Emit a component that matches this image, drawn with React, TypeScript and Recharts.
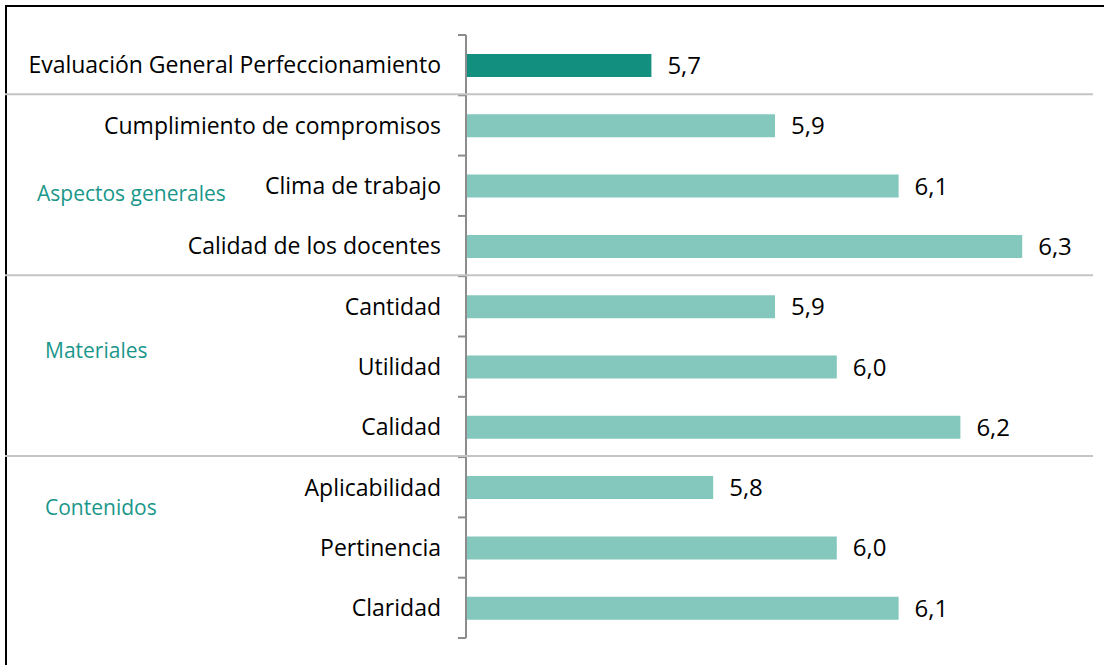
import React from "react";
import { BarChart, Bar, XAxis, YAxis, Cell, LabelList } from "recharts";

const categories = [
  "Evaluación General Perfeccionamiento",
  "Cumplimiento de compromisos",
  "Clima de trabajo",
  "Calidad de los docentes",
  "Cantidad",
  "Utilidad",
  "Calidad",
  "Aplicabilidad",
  "Pertinencia",
  "Claridad",
];
const values = [5.7, 5.9, 6.1, 6.3, 5.9, 6.0, 6.2, 5.8, 6.0, 6.1];
const groupStarts = ["Cumplimiento de compromisos", "Cantidad", "Aplicabilidad"];
const groupLabels = ["Aspectos generales", "Materiales", "Contenidos"];
const xDomain = [5.4, 6.4];

const data = categories.map((name, i) => ({ name, value: values[i] }));

const FONT = "'Open Sans', 'Noto Sans', sans-serif";
const DARK = "#138f80";
const LIGHT = "#84c7bd";
const AXIS = "#8c8c8c";
const SEP = "#c4c4c4";
const TEAL_TEXT = "#1a978a";

const CatTick = (props: any) => {
  const { x, y, payload, index, visibleTicksCount } = props;
  const half = payload && payload.offset ? payload.offset : 30;
  const isStart = groupStarts.includes(payload.value);
  const last = index === visibleTicksCount - 1;
  return (
    <g>
      <text
        x={x}
        y={y}
        dy="0.36em"
        textAnchor="end"
        fill="#000"
        fontSize={23}
        fontFamily={FONT}
      >
        {payload.value}
      </text>
      <line x1={x + 17} x2={x + 25} y1={y - half} y2={y - half} stroke={AXIS} strokeWidth={2} />
      {last && (
        <line x1={x + 17} x2={x + 25} y1={y + half} y2={y + half} stroke={AXIS} strokeWidth={2} />
      )}
      {isStart && (
        <line x1={5} x2={1093} y1={y - half - 1} y2={y - half - 1} stroke={SEP} strokeWidth={2} />
      )}
    </g>
  );
};

const groupPos = [
  { left: 37, top: 180 },
  { left: 45, top: 337 },
  { left: 45, top: 494 },
];

export default function App() {
  return (
    <div
      style={{
        position: "absolute",
        left: 0,
        top: 0,
        width: 1104,
        height: 665,
        background: "#fff",
        overflow: "hidden",
      }}
    >
      <div
        style={{
          position: "absolute",
          left: 5,
          top: 5,
          width: 1099,
          height: 660,
          borderTop: "2px solid #000",
          borderLeft: "2px solid #000",
          boxSizing: "border-box",
        }}
      />
      <div style={{ position: "absolute", left: 0, top: 0 }}>
        <BarChart
          width={1104}
          height={665}
          data={data}
          layout="vertical"
          margin={{ top: 35, right: 20, bottom: 27, left: 0 }}
        >
          <XAxis type="number" domain={xDomain} hide allowDataOverflow />
          <YAxis
            type="category"
            dataKey="name"
            width={466}
            interval={0}
            tickLine={false}
            tickSize={8}
            tickMargin={17}
            axisLine={{ stroke: AXIS, strokeWidth: 2 }}
            tick={<CatTick />}
          />
          <Bar dataKey="value" barSize={23} isAnimationActive={false}>
            {data.map((d, i) => (
              <Cell key={d.name} fill={i === 0 ? DARK : LIGHT} />
            ))}
            <LabelList
              dataKey="value"
              position="right"
              offset={16}
              fill="#000"
              fontSize={24}
              fontFamily={FONT}
              formatter={(v: any) => Number(v).toFixed(1).replace(".", ",")}
            />
          </Bar>
        </BarChart>
      </div>
      {groupLabels.map((g, i) => (
        <div
          key={g}
          style={{
            position: "absolute",
            left: groupPos[i].left,
            top: groupPos[i].top,
            fontFamily: FONT,
            fontSize: 21,
            lineHeight: "26px",
            color: TEAL_TEXT,
            whiteSpace: "nowrap",
          }}
        >
          {g}
        </div>
      ))}
    </div>
  );
}
